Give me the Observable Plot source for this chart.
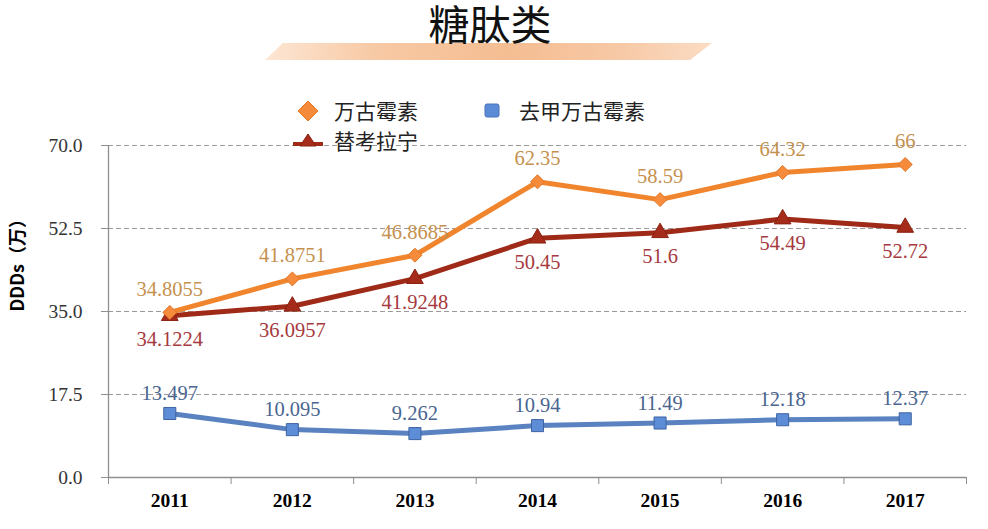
<!DOCTYPE html>
<html><head><meta charset="utf-8">
<script src="https://cdn.jsdelivr.net/npm/d3@7"></script>
<script src="https://cdn.jsdelivr.net/npm/@observablehq/plot@0.6"></script>
<style>
body{margin:0;background:#fff;}
#wrap{position:relative;width:988px;height:529px;overflow:hidden;background:#fff;}
#chart{position:absolute;left:0;top:0;}
#band{position:absolute;left:265px;top:43px;width:447px;height:17px;
  clip-path:polygon(18px 0,447px 0,425px 17px,0 17px);
  background:linear-gradient(to right,#fde6d4 0%,#f7c9a4 25%,#f5bd92 55%,#f7c9a6 80%,#fbdcc4 100%);}
#title{position:absolute;left:0;width:980px;top:0px;text-align:center;font-family:"Noto Sans CJK SC";font-size:41px;line-height:44px;color:#111;}
.lg{position:absolute;font-family:"Noto Sans CJK SC";font-size:21px;line-height:26px;color:#222;}
.mk{position:absolute;}
</style></head><body>
<div id="wrap">
  <div id="chart"></div>
  <div id="band"></div>
  <div id="title">糖肽类</div>
  <svg class="mk" style="left:296px;top:99px" width="24" height="24"><path d="M12,2 L22,12 L12,22 L2,12 Z" fill="#f58a3a" stroke="#e6782a" stroke-width="1"/></svg>
  <div class="lg" id="lg0" style="left:334px;top:97px"></div>
  <svg class="mk" style="left:482px;top:102px" width="20" height="18"><rect x="3" y="2" width="14" height="13" rx="2" fill="#5b8bd6" stroke="#4a74b8" stroke-width="1"/></svg>
  <div class="lg" id="lg2" style="left:519px;top:97px"></div>
  <svg class="mk" style="left:292px;top:130px" width="32" height="20"><line x1="1" y1="14" x2="31" y2="14" stroke="#9e2a17" stroke-width="4"/><path d="M16,4 L24,16 L8,16 Z" fill="#a52c1a" stroke="#8a2010" stroke-width="1"/></svg>
  <div class="lg" id="lg1" style="left:334px;top:127px"></div>
</div>
<script>
const years = [2011, 2012, 2013, 2014, 2015, 2016, 2017];
const seriesNames = ["万古霉素", "替考拉宁", "去甲万古霉素"];
const vancomycin = [34.8055, 41.8751, 46.8685, 62.35, 58.59, 64.32, 66];
const teicoplanin = [34.1224, 36.0957, 41.9248, 50.45, 51.6, 54.49, 52.72];
const norvancomycin = [13.497, 10.095, 9.262, 10.94, 11.49, 12.18, 12.37];
const yTicks = [0, 17.5, 35, 52.5, 70];
const yLabel = "DDDs（万）";

document.getElementById("lg0").textContent = seriesNames[0];
document.getElementById("lg1").textContent = seriesNames[1];
document.getElementById("lg2").textContent = seriesNames[2];

const rows = (vals, name) => years.map((y, i) => ({year: y, value: vals[i], name}));
const vRows = rows(vancomycin, seriesNames[0]);
const tRows = rows(teicoplanin, seriesNames[1]);
const nRows = rows(norvancomycin, seriesNames[2]);
const bounds = [years[0] - 0.5, ...years.map(y => y + 0.5)];

const serif = "Liberation Serif";
const axisColor = "#8f8f8f";

const chart = Plot.plot({
  width: 988,
  height: 529,
  marginLeft: 108,
  marginRight: 22,
  marginTop: 145,
  marginBottom: 52,
  style: {background: "transparent", overflow: "visible"},
  x: {type: "linear", domain: [bounds[0], bounds[bounds.length - 1]]},
  y: {domain: [0, 70]},
  marks: [
    Plot.ruleY(yTicks.filter(d => d > 0), {stroke: "#9a9a9a", strokeWidth: 1, strokeDasharray: "5,3"}),
    Plot.ruleY([0], {stroke: axisColor, strokeWidth: 1.3}),
    Plot.ruleX([bounds[0]], {y1: 0, y2: 70, stroke: axisColor, strokeWidth: 1.3}),
    Plot.axisX({ticks: bounds, tickSize: 7, tickFormat: () => "", stroke: axisColor, label: null}),
    Plot.axisX({ticks: years, tickSize: 0, tickPadding: 16, tickFormat: d => String(d), fontSize: 19.5, fontWeight: "bold", fontFamily: serif, fill: "#000", label: null}),
    Plot.axisY({ticks: yTicks, tickSize: 7, tickPadding: 19, tickFormat: d => d.toFixed(1), fontSize: 19.5, fontFamily: serif, fill: "#333", stroke: axisColor, label: null}),
    Plot.text([yLabel], {text: d => d, frameAnchor: "left", dx: -90, rotate: -90, fontSize: 18, fontWeight: "bold", fontFamily: "Noto Sans CJK SC", fill: "#000"}),
    // 替考拉宁
    Plot.line(tRows, {x: "year", y: "value", stroke: "#9e2a17", strokeWidth: 5}),
    Plot.dot(tRows, {x: "year", y: "value", symbol: "triangle", r: 6.2, fill: "#a52c1a", stroke: "#8a2010", strokeWidth: 1}),
    // 万古霉素
    Plot.line(vRows, {x: "year", y: "value", stroke: "#f0852d", strokeWidth: 5}),
    Plot.dot(vRows, {x: "year", y: "value", symbol: "diamond2", r: 6.3, fill: "#f68b3b", stroke: "#e0772a", strokeWidth: 1}),
    // 去甲万古霉素
    Plot.line(nRows, {x: "year", y: "value", stroke: "#5a82c0", strokeWidth: 5}),
    Plot.dot(nRows, {x: "year", y: "value", symbol: "square", r: 6.8, fill: "#5e8dd8", stroke: "#3e63a0", strokeWidth: 1}),
    // labels
    Plot.text(vRows, {x: "year", y: "value", text: d => String(d.value), dy: -23, fontSize: 20.5, fontFamily: serif, fill: "#c5914f"}),
    Plot.text(tRows, {x: "year", y: "value", text: d => String(d.value), dy: 24, fontSize: 20.5, fontFamily: serif, fill: "#a63a40"}),
    Plot.text(nRows, {x: "year", y: "value", text: d => String(d.value), dy: -20, fontSize: 20.5, fontFamily: serif, fill: "#4a6590"})
  ]
});
document.getElementById("chart").appendChild(chart);
</script>
</body></html>
